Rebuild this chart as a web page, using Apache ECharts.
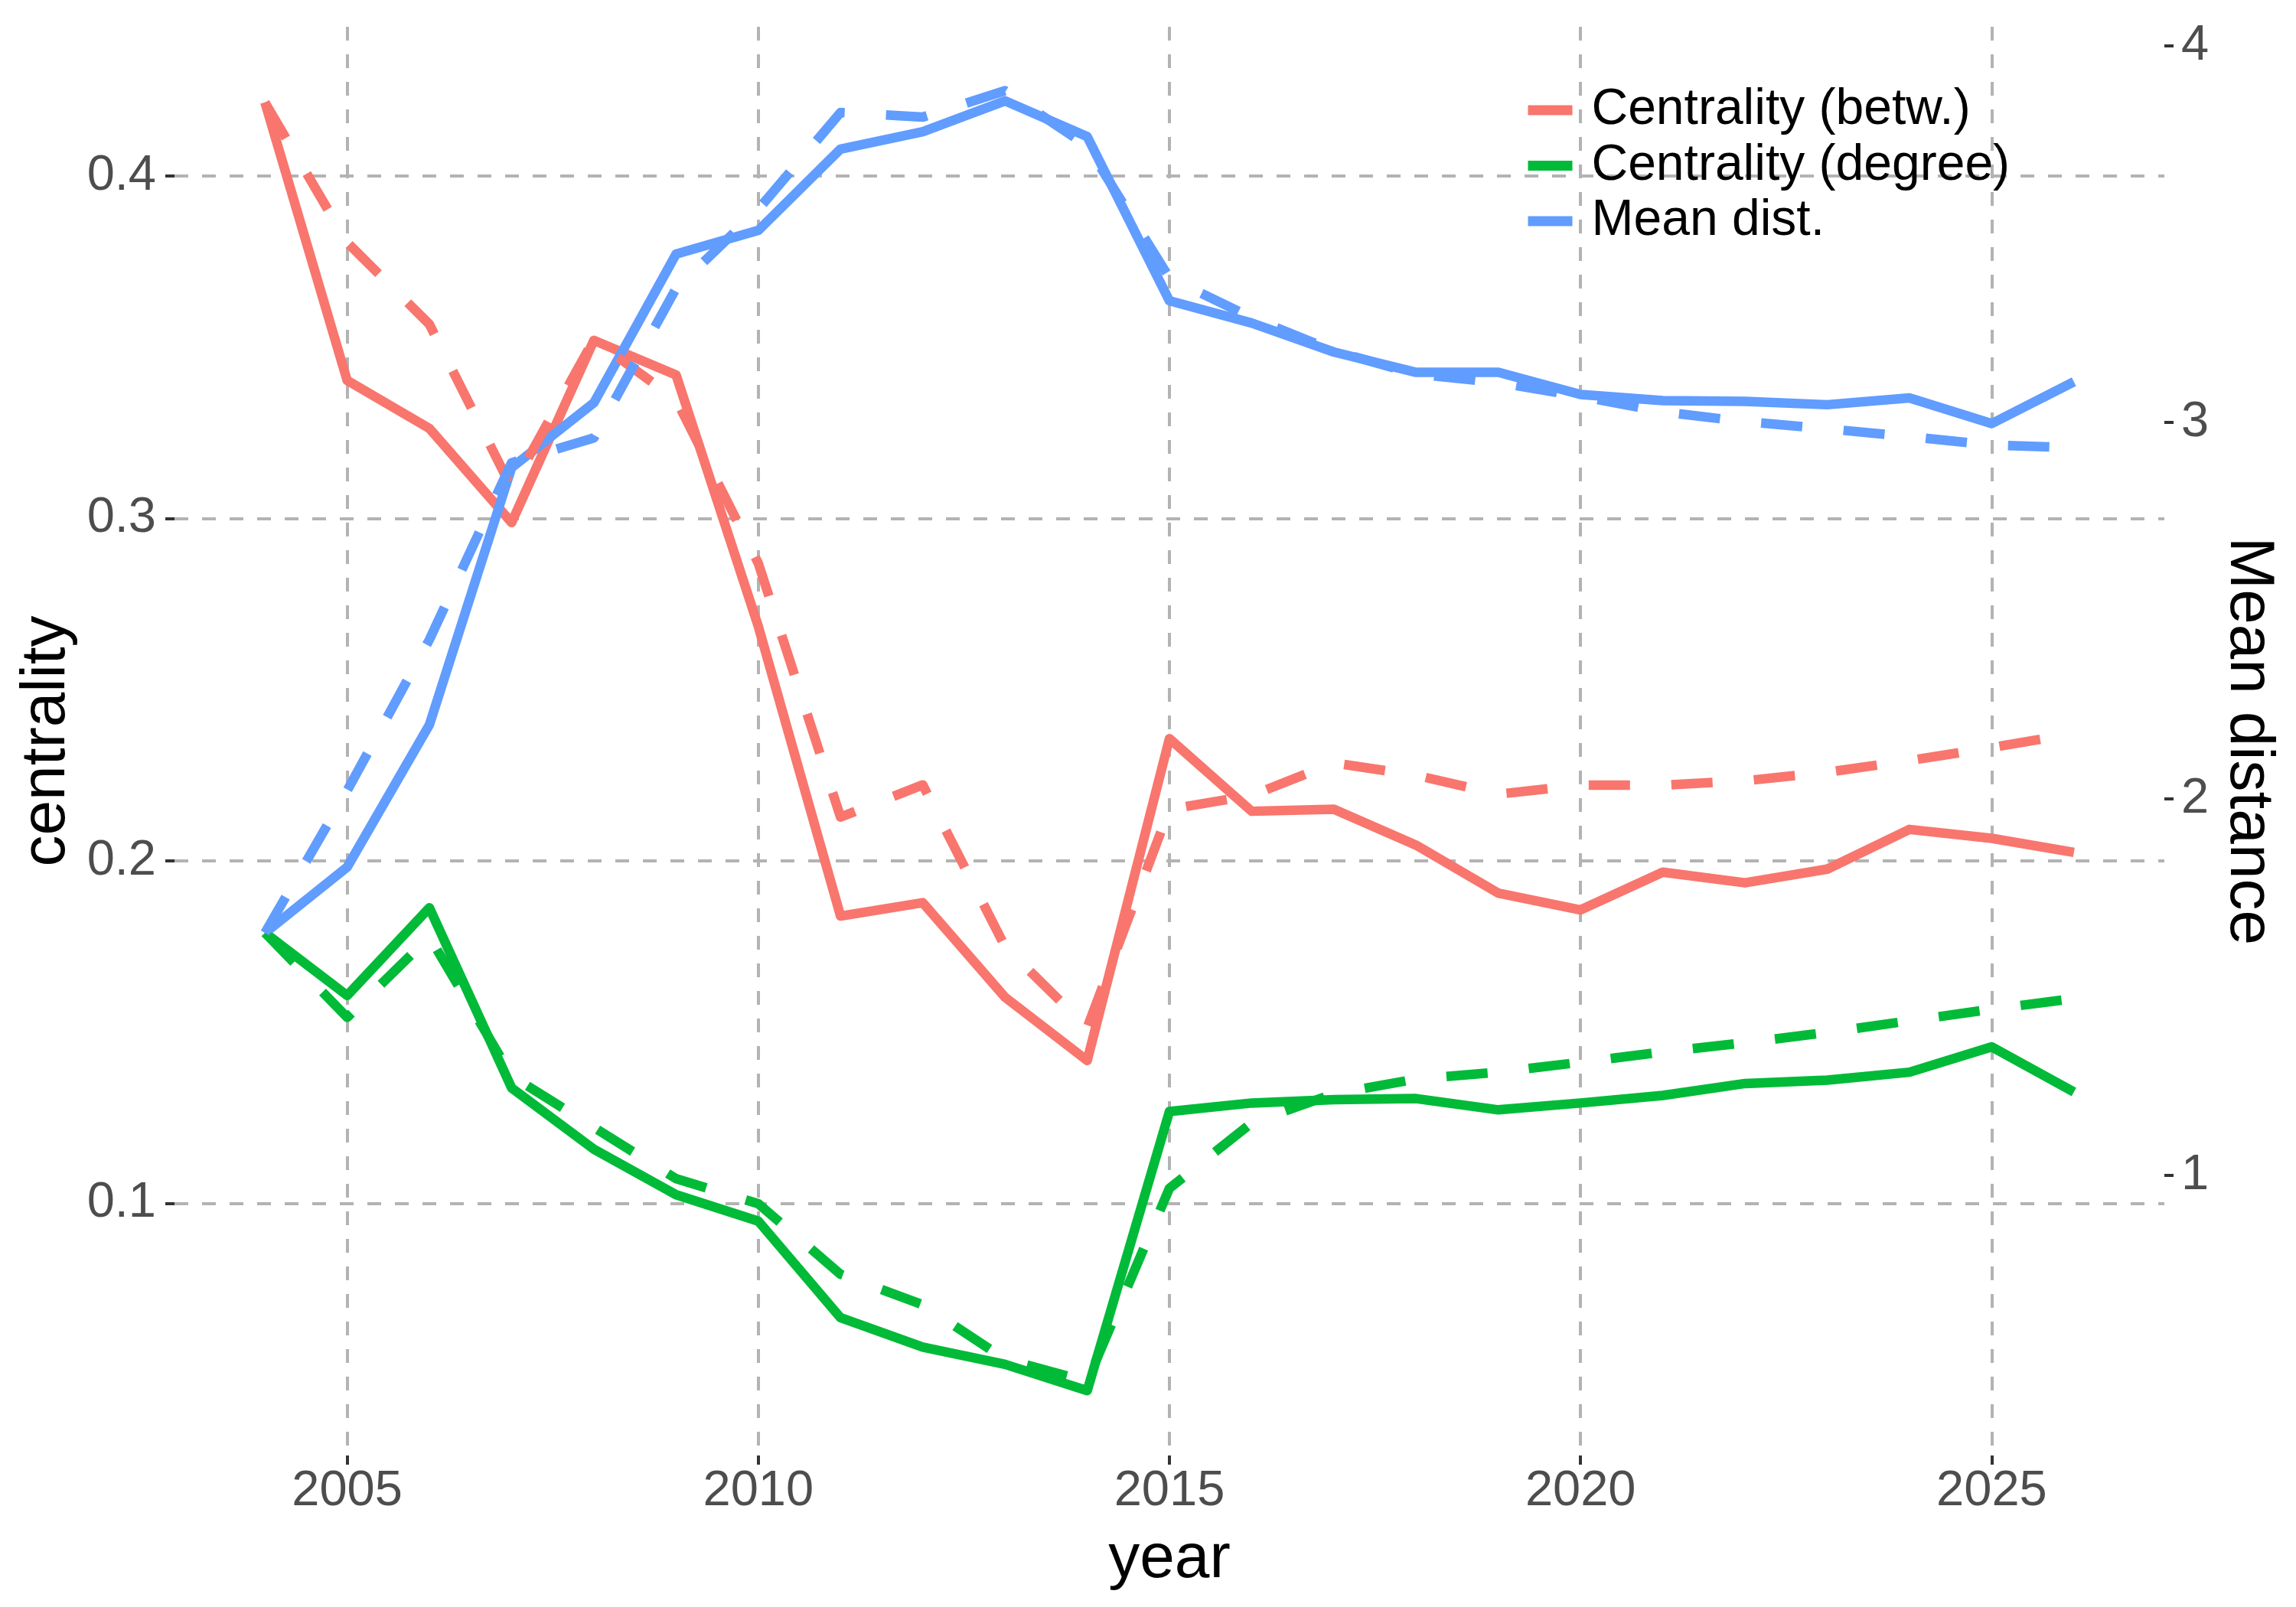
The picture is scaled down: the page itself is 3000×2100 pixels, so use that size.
<!DOCTYPE html>
<html>
<head>
<meta charset="utf-8">
<script src="https://cdn.jsdelivr.net/npm/echarts@6/dist/echarts.min.js"></script>
<style>
  html, body { margin: 0; padding: 0; background: #fff; }
  #main { width: 3000px; height: 2100px; }
</style>
</head>
<body>
<div id="main"></div>
<script>
// data
const years = [2004, 2005, 2006, 2007, 2008, 2009, 2010, 2011, 2012, 2013, 2014, 2015,
  2016, 2017, 2018, 2019, 2020, 2021, 2022, 2023, 2024, 2025, 2026];

const betwSolid = [0.4215, 0.3403, 0.3263, 0.2988, 0.3520, 0.3419, 0.2685, 0.1839, 0.1878, 0.1602, 0.1417, 0.2357,
  0.2145, 0.2151, 0.2046, 0.1906, 0.1857, 0.1967, 0.1936, 0.1976, 0.2092, 0.2066, 0.2025];
const betwDashed = [0.4215, 0.3806, 0.3567, 0.3089, 0.3522, 0.3347, 0.2869, 0.2128, 0.2222, 0.1750, 0.1513, 0.2151,
  0.2191, 0.2286, 0.2250, 0.2195, 0.2221, 0.2221, 0.2234, 0.2259, 0.2293, 0.2331, 0.2372];

const degreeSolid = [0.1790, 0.1607, 0.1863, 0.1337, 0.1158, 0.1025, 0.0948, 0.0666, 0.0580, 0.0530, 0.0453, 0.1268,
  0.1293, 0.1303, 0.1306, 0.1273, 0.1293, 0.1315, 0.1350, 0.1360, 0.1383, 0.1457, 0.1325];
const degreeDashed = [0.1790, 0.1543, 0.1778, 0.1372, 0.1222, 0.1072, 0.0999, 0.0793, 0.0704, 0.0545, 0.0480, 0.1044,
  0.1235, 0.1320, 0.1363, 0.1383, 0.1412, 0.1442, 0.1469, 0.1499, 0.1533, 0.1567, 0.1598];

// mean distance, on the right axis
const distSolid = [1.644, 1.819, 2.197, 2.880, 3.052, 3.447, 3.510, 3.726, 3.772, 3.854, 3.759, 3.323,
  3.264, 3.187, 3.133, 3.133, 3.074, 3.058, 3.056, 3.047, 3.065, 2.997, 3.108];
const distDashed = [1.644, 2.022, 2.423, 2.893, 2.959, 3.356, 3.566, 3.823, 3.811, 3.881, 3.734, 3.384,
  3.278, 3.190, 3.128, 3.106, 3.069, 3.028, 3.002, 2.983, 2.962, 2.940, 2.933];

const xTicks = [2005, 2010, 2015, 2020, 2025];
const yTicks = [0.1, 0.2, 0.3, 0.4];
const distTicks = [1, 2, 3, 4];

const names = ["Centrality (betw.)", "Centrality (degree)", "Mean dist."];
const colors = ["#F8766D", "#00BA38", "#619CFF"];

const FONT = "Liberation Sans";
const dash = [54, 54];

let pair = (arr) => years.map((y, i) => [y, arr[i]]);

let mkLine = (key, color, arr, dashed, yIdx) => ({
  name: key + (dashed ? " dashed" : " solid"),
  type: "line",
  yAxisIndex: yIdx,
  data: pair(arr),
  symbol: "none",
  color: color,
  lineStyle: { color: color, width: 12.5, type: dashed ? dash : "solid", cap: "butt", join: "round" },
  z: dashed ? 3 : 2,
});

// empty series that only feed the legend (solid keys)
let legendSeries = names.map((n, i) => ({
  name: n,
  type: "line",
  data: [],
  symbol: "rect",
  color: colors[i],
  itemStyle: { color: colors[i] },
  lineStyle: { color: colors[i], width: 13, type: "solid", cap: "butt" },
}));

let chart = echarts.init(document.getElementById("main"));

let tickStyle = { show: true, length: 12, lineStyle: { color: "#333333", width: 4 } };
let gridLine = { show: true, lineStyle: { color: "#B3B3B3", width: 4, type: [18, 18] } };

let option = {
  animation: false,
  backgroundColor: "#ffffff",
  textStyle: { fontFamily: FONT },
  grid: { left: 228, right: 172, top: 35, bottom: 198 },
  legend: {
    orient: "vertical",
    left: 1985,
    top: 103,
    itemWidth: 58,
    itemHeight: 13,
    itemGap: 0.5,
    selectedMode: false,
    data: names,
    lineStyle: { width: 13, type: "solid", cap: "butt" },
    itemStyle: { borderWidth: 0 },
    textStyle: { fontFamily: FONT, fontSize: 66, color: "#000", lineHeight: 72, padding: [0, 0, 0, 20] },
  },
  xAxis: {
    type: "value",
    min: 2002.9,
    max: 2027.1,
    name: "year",
    nameLocation: "middle",
    nameGap: 95,
    nameTextStyle: { fontFamily: FONT, fontSize: 82, color: "#000" },
    axisLine: { show: false },
    axisTick: Object.assign({ customValues: xTicks }, tickStyle),
    axisLabel: {
      customValues: xTicks,
      formatter: (v) => String(v),
      fontFamily: FONT, fontSize: 65, color: "#4D4D4D", margin: 15,
    },
    splitLine: gridLine,
  },
  yAxis: [
    {
      type: "value",
      position: "left",
      min: 0.02637,
      max: 0.44358,
      name: "centrality",
      nameLocation: "middle",
      nameGap: 126,
      nameTextStyle: { fontFamily: FONT, fontSize: 82, color: "#000" },
      axisLine: { show: false },
      axisTick: Object.assign({ customValues: yTicks }, tickStyle),
      axisLabel: {
        customValues: yTicks,
        formatter: (v) => v.toFixed(1),
        fontFamily: FONT, fontSize: 65, color: "#4D4D4D", margin: 24,
      },
      splitLine: gridLine,
    },
    {
      type: "value",
      position: "right",
      min: 0.2561,
      max: 4.0508,
      name: "Mean distance",
      nameLocation: "middle",
      nameRotate: -90,
      nameGap: 66,
      nameTextStyle: { fontFamily: FONT, fontSize: 82, color: "#000" },
      axisLine: { show: false },
      axisTick: Object.assign({ customValues: distTicks }, tickStyle),
      axisLabel: { customValues: distTicks, fontFamily: FONT, fontSize: 65, color: "#4D4D4D", margin: 22 },
      splitLine: { show: false },
    },
  ],
  series: [
    mkLine("betw", colors[0], betwSolid, false, 0),
    mkLine("degree", colors[1], degreeSolid, false, 0),
    mkLine("dist", colors[2], distSolid, false, 1),
    mkLine("betw", colors[0], betwDashed, true, 0),
    mkLine("degree", colors[1], degreeDashed, true, 0),
    mkLine("dist", colors[2], distDashed, true, 1),
  ].concat(legendSeries),
};
chart.setOption(option);
</script>
</body>
</html>
